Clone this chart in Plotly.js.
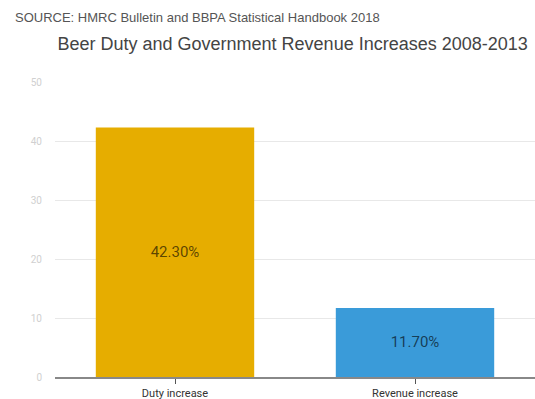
<!DOCTYPE html>
<html><head><meta charset="utf-8">
<script src="https://cdn.plot.ly/plotly-3.0.1.min.js"></script>
<style>html,body{margin:0;padding:0;background:#fff}#chart{width:535px;height:399px}</style>
</head><body><div id="chart"></div>
<script>
const categories = ["Duty increase", "Revenue increase"];
const values = [42.3, 11.7];
const labels = ["42.30%", "11.70%"];
const colors = ["#E6AD00", "#3A9BD9"];
const yTicks = [0, 10, 20, 30, 40, 50];

const trace = {
  type: "bar",
  x: categories,
  y: values,
  text: labels,
  textposition: "inside",
  insidetextanchor: "middle",
  textfont: {family: "Roboto, sans-serif", size: 15, color: "rgba(0,0,0,0.62)"},
  marker: {color: colors},
  width: 0.66,
  hoverinfo: "none"
};

const layout = {
  width: 535, height: 399,
  margin: {l: 55, r: 0, t: 82, b: 22},
  paper_bgcolor: "#fff", plot_bgcolor: "#fff",
  showlegend: false,
  title: {
    text: "Beer Duty and Government Revenue Increases 2008-2013",
    font: {family: "Liberation Sans, Arial, sans-serif", size: 18, color: "#444"},
    x: 0.547, xanchor: "center", y: 0.89, yanchor: "middle"
  },
  annotations: [{
    text: "SOURCE: HMRC Bulletin and BBPA Statistical Handbook 2018",
    xref: "paper", yref: "paper", x: -0.087, y: 1.22, xanchor: "left", yanchor: "middle",
    showarrow: false,
    font: {family: "Liberation Sans, Arial, sans-serif", size: 13, color: "#555"}
  }],
  xaxis: {
    type: "category",
    showline: true, linecolor: "#888", linewidth: 1.5,
    ticks: "outside", ticklen: 5, tickcolor: "#555", tickwidth: 1,
    tickfont: {family: "Roboto, sans-serif", size: 11, color: "#333"},
    showgrid: false, fixedrange: true
  },
  yaxis: {
    range: [0, 50],
    tickvals: yTicks,
    ticktext: yTicks.map(String),
    showgrid: true, gridcolor: "#e8e8e8", gridwidth: 1,
    zeroline: false, showline: false,
    tickfont: {family: "Roboto, sans-serif", size: 10, color: "#d0d0d0"},
    ticklabelstandoff: 12,
    fixedrange: true
  },
  font: {family: "Roboto, sans-serif"}
};

Plotly.newPlot("chart", [trace], layout, {displayModeBar: false, staticPlot: true});
</script></body></html>
